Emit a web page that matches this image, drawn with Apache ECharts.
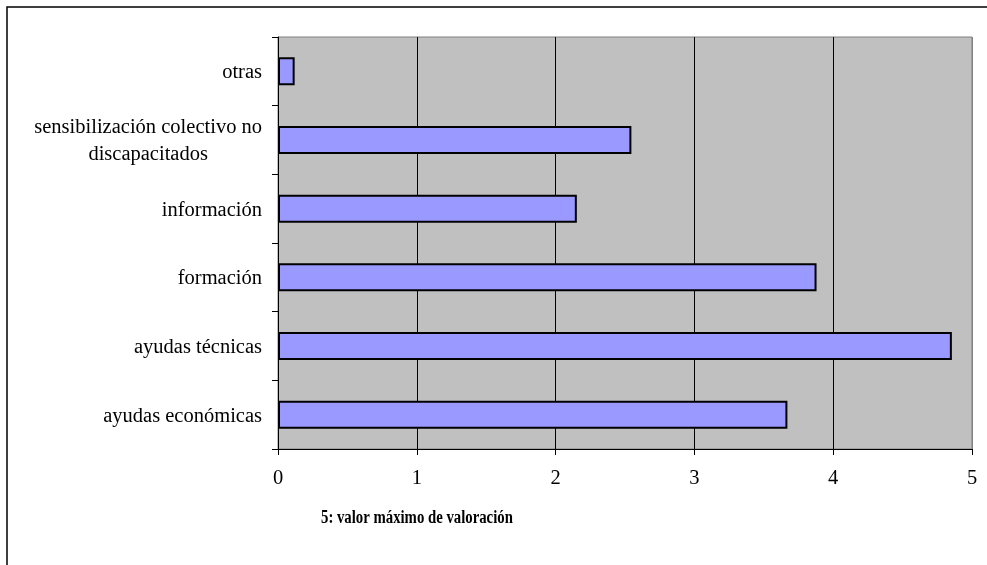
<!DOCTYPE html>
<html>
<head>
<meta charset="utf-8">
<script src="https://cdn.jsdelivr.net/npm/echarts@6/dist/echarts.min.js"></script>
<style>
html,body{margin:0;padding:0;background:#fff;}
#c{width:987px;height:565px;}
</style>
</head>
<body>
<div id="c"></div>
<script>
// Categories listed bottom to top
const categories = [
  'ayudas económicas',
  'ayudas técnicas',
  'formación',
  'información',
  'sensibilización colectivo no\ndiscapacitados',
  'otras'
];
const values = [3.67, 4.855, 3.88, 2.153, 2.546, 0.12];
const xTicks = [0, 1, 2, 3, 4, 5];
const axisTitle = '5: valor máximo de valoración';

const chart = echarts.init(document.getElementById('c'));
const font = '"Liberation Serif", "Times New Roman", serif';
chart.setOption({
  animation: false,
  backgroundColor: '#fff',
  textStyle: { fontFamily: font },
  grid: {
    left: 278, right: 15, top: 37, bottom: 116,
    show: true, backgroundColor: '#C0C0C0', borderColor: '#808080', borderWidth: 1
  },
  xAxis: {
    type: 'value',
    min: xTicks[0], max: xTicks[xTicks.length - 1], interval: 1,
    axisLine: { show: true, lineStyle: { color: '#000', width: 1 } },
    axisTick: { show: true, length: 6, lineStyle: { color: '#000' } },
    axisLabel: { color: '#000', fontSize: 20.5, fontFamily: font, margin: 19 },
    splitLine: { show: true, lineStyle: { color: ['#000', '#000', '#000', '#000', '#000', '#808080'], width: 1 } }
  },
  yAxis: {
    type: 'category',
    data: categories,
    axisLine: { show: true, lineStyle: { color: '#000', width: 1 } },
    axisTick: { show: true, length: 6, lineStyle: { color: '#000' } },
    axisLabel: {
      color: '#000', fontSize: 20.5, fontFamily: font, margin: 16,
      formatter: function (v) {
        return v.split('\n').map(function (s) { return '{a|' + s + '}'; }).join('\n');
      },
      rich: { a: { fontSize: 20.5, fontFamily: font, color: '#000', align: 'center', lineHeight: 27, padding: [3, 0, 0, 0] } }
    },
    splitLine: { show: false }
  },
  series: [{
    type: 'bar',
    data: values,
    barWidth: 28,
    itemStyle: { color: '#9999FF', borderColor: '#000', borderWidth: 2 }
  }],
  graphic: [
    { type: 'rect', shape: { x: 7, y: 7, width: 1500, height: 1500 },
      style: { fill: 'none', stroke: '#000', lineWidth: 1.5 }, z: 100 },
    { type: 'text', x: 321, y: 509, scaleX: 0.82,
      style: { text: axisTitle, font: 'bold 18px ' + font, fill: '#000', x: 0, y: 0, textVerticalAlign: 'top' } }
  ]
});
</script>
</body>
</html>
